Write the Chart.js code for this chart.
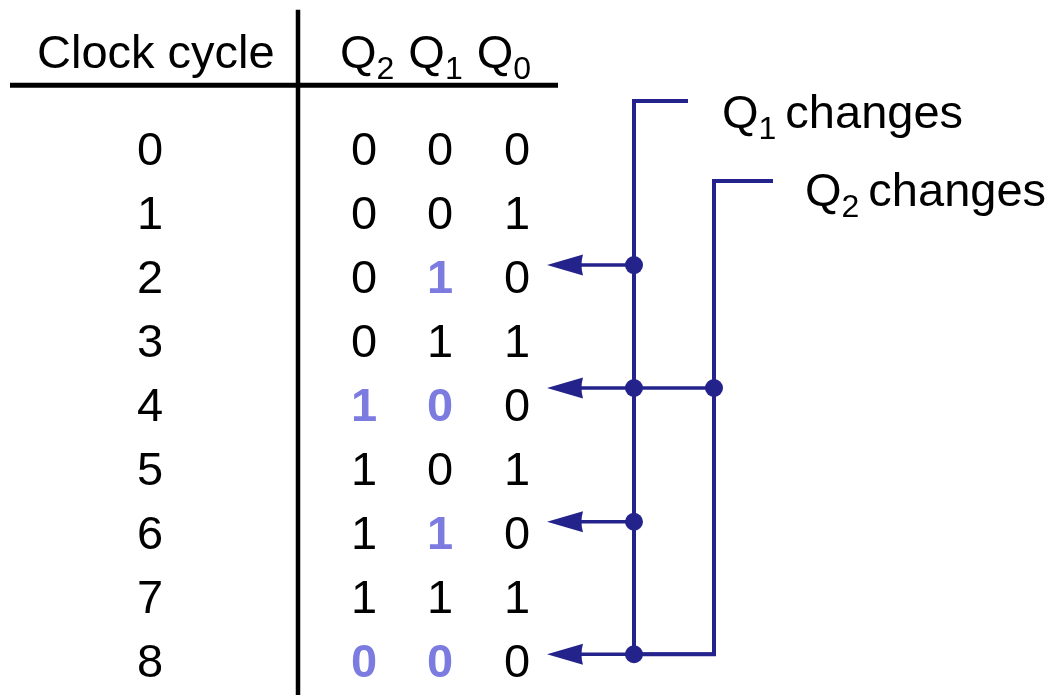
<!DOCTYPE html>
<html><head><meta charset="utf-8">
<script src="https://cdn.jsdelivr.net/npm/chart.js@4/dist/chart.umd.min.js"></script>
<style>html,body{margin:0;padding:0;background:#fff;overflow:hidden}canvas{display:block}</style>
</head><body>
<canvas id="c" width="1051" height="695"></canvas>
<script>
// ---- data ----
const cycles = ['0','1','2','3','4','5','6','7','8'];
const q2 = [0,0,0,0,1,1,1,1,0];
const q1 = [0,0,1,1,0,0,1,1,0];
const q0 = [0,1,0,1,0,1,0,1,0];
const q2Changed = [false,false,false,false,true,false,false,false,true];
const q1Changed = [false,false,true,false,true,false,true,false,true];
const headerLabel = 'Clock cycle';
const bitNames = ['2','1','0'];           // Q2 Q1 Q0 subscripts
const calloutLabels = [{sub:'1', text:'changes'}, {sub:'2', text:'changes'}];
// arrow levels (in row units) where Q1 / Q2 change
const q1ArrowRows = [1.83, 3.75, 5.84, 7.91];
const q2ArrowRows = [3.75, 7.91];

// ---- layout constants (row units on y, px units on x) ----
const NAVY = '#23238b', LIGHT = '#7b7be0';
const FONT = '"Liberation Sans", Arial, sans-serif';
const FS = 47, SUBFS = 32, SUBOFF = 11;
const colX = {cycle: 150, q2: 364, q1: 440, q0: 517};
const headerRow = -1.52, ruleRow = -0.98, topRow = -2.16, bottomRow = 8.6;
const bus1X = 634, bus2X = 714, arrowTipX = 547, arrowBackX = 583;
const bus1Top = -0.734, bus2Top = 0.516;
const bus1TabX = 688, bus2TabX = 773;
const callout1 = {x: 722, row: -0.58}, callout2 = {x: 805, row: 0.64};

const lineDs = (pts, color, w) => ({type:'scatter', data: pts, showLine: true, borderColor: color, borderWidth: w,
  pointRadius: 0, fill: false, tension: 0, borderJoinStyle: 'miter', borderCapStyle: 'butt'});

const lastArrow = q1ArrowRows[q1ArrowRows.length-1];
const datasets = [
  lineDs([{x:10,y:ruleRow},{x:558,y:ruleRow}], '#000', 5),
  lineDs([{x:298,y:topRow},{x:298,y:bottomRow}], '#000', 4.5),
  lineDs([{x:bus1TabX,y:bus1Top},{x:bus1X,y:bus1Top},{x:bus1X,y:lastArrow}], NAVY, 4),
  lineDs([{x:bus2TabX,y:bus2Top},{x:bus2X,y:bus2Top},{x:bus2X,y:q2ArrowRows[q2ArrowRows.length-1]},{x:bus1X,y:q2ArrowRows[q2ArrowRows.length-1]}], NAVY, 4),
  ...q1ArrowRows.map(r => lineDs([{x:arrowBackX-2,y:r},{x:(q2ArrowRows.includes(r)?bus2X:bus1X),y:r}], NAVY, 3.5)),
  {type:'scatter', data: q1ArrowRows.map(r=>({x:bus1X,y:r})).concat(q2ArrowRows.filter(r=>r!==lastArrow).map(r=>({x:bus2X,y:r}))),
   pointRadius: 9, pointBackgroundColor: NAVY, pointBorderWidth: 0, showLine: false}
];

const drawPlugin = {
  id: 'tableText',
  afterDatasetsDraw(chart) {
    const ctx = chart.ctx, xs = chart.scales.x, ys = chart.scales.y;
    const X = v => xs.getPixelForValue(v), Y = v => ys.getPixelForValue(v);
    const cap = FS * 0.358;
    ctx.save();
    // arrowheads
    ctx.fillStyle = NAVY;
    q1ArrowRows.forEach(r => {
      const y = Y(r);
      ctx.beginPath();
      ctx.moveTo(X(arrowTipX), y);
      ctx.lineTo(X(arrowBackX), y - 10.5);
      ctx.quadraticCurveTo(X(arrowBackX-3), y, X(arrowBackX), y + 10.5);
      ctx.closePath();
      ctx.fill();
    });
    // text helpers
    const qWithSub = (x, base, sub, color) => {
      ctx.textAlign = 'left';
      ctx.fillStyle = color || '#000';
      ctx.font = FS + 'px ' + FONT;
      ctx.fillText('Q', x, base);
      const w = ctx.measureText('Q').width;
      ctx.font = SUBFS + 'px ' + FONT;
      ctx.fillText(sub, x + w, base + SUBOFF);
      return x + w + ctx.measureText(sub).width;
    };
    // header
    ctx.fillStyle = '#000';
    ctx.textBaseline = 'alphabetic';
    ctx.font = FS + 'px ' + FONT;
    ctx.textAlign = 'left';
    const hb = Y(headerRow) + cap;
    ctx.fillText(headerLabel, X(37), hb);
    let hx = X(340);
    bitNames.forEach(n => { hx = qWithSub(hx, hb, n) + 14; });
    // rows
    cycles.forEach((c, i) => {
      const b = Y(i) + cap;
      ctx.textAlign = 'center';
      ctx.font = FS + 'px ' + FONT; ctx.fillStyle = '#000';
      ctx.fillText(c, X(colX.cycle), b);
      const cell = (val, changed, cx) => {
        ctx.font = (changed ? 'bold ' : '') + FS + 'px ' + FONT;
        ctx.fillStyle = changed ? LIGHT : '#000';
        ctx.fillText(String(val), X(cx), b);
      };
      cell(q2[i], q2Changed[i], colX.q2);
      cell(q1[i], q1Changed[i], colX.q1);
      cell(q0[i], false, colX.q0);
    });
    // callouts
    [callout1, callout2].forEach((co, k) => {
      const b = Y(co.row) + cap;
      const ex = qWithSub(X(co.x), b, calloutLabels[k].sub, '#000');
      ctx.font = FS + 'px ' + FONT; ctx.fillStyle = '#000'; ctx.textAlign = 'left';
      ctx.fillText(calloutLabels[k].text, ex + 9, b);
    });
    ctx.restore();
  }
};

new Chart(document.getElementById('c'), {
  type: 'scatter',
  data: { datasets },
  options: {
    responsive: false, animation: false, events: [],
    layout: { padding: 0, autoPadding: false },
    plugins: { legend: { display: false }, tooltip: { enabled: false } },
    scales: {
      x: { type: 'linear', min: 0, max: 1051, display: false },
      y: { type: 'linear', min: -148/64, max: -148/64 + 695/64, reverse: true, display: false }
    }
  },
  plugins: [drawPlugin]
});
</script>
</body></html>
